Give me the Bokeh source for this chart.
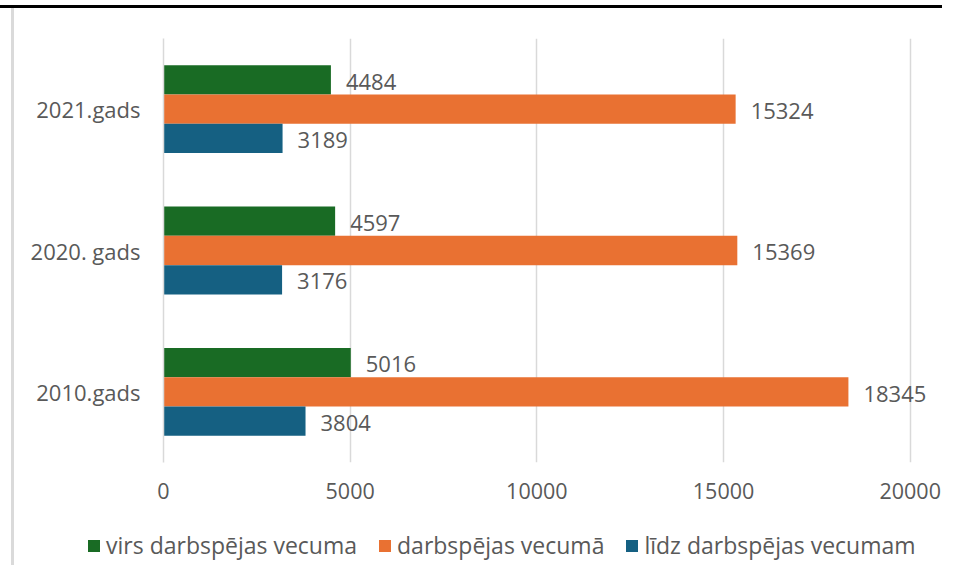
from bokeh.plotting import figure
from bokeh.layouts import column
from bokeh.models import ColumnDataSource, FactorRange, Range1d, FixedTicker, Legend, LegendItem
from bokeh.transform import dodge
from bokeh.core.properties import value
from bokeh.embed import file_html
from bokeh.resources import INLINE

# ---- data ----
categories = ["2010.gads", "2020. gads", "2021.gads"]
virs = [5016, 4597, 4484]          # virs darbspējas vecuma
darbs = [18345, 15369, 15324]      # darbspējas vecumā
lidz = [3804, 3176, 3189]          # līdz darbspējas vecumam
series_names = ["virs darbspējas vecuma", "darbspējas vecumā", "līdz darbspējas vecumam"]
x_ticks = [0, 5000, 10000, 15000, 20000]

colors = ["#196B24", "#E97132", "#156082"]
TEXT = "#595959"
GRID = "#D9D9D9"
FONT = "Open Sans"
EDGE = "#DADADA"

source = ColumnDataSource(data=dict(cat=categories, virs=virs, darbs=darbs, lidz=lidz))

p = figure(
    width=942, height=515,
    y_range=FactorRange(factors=categories, range_padding=0),
    x_range=Range1d(0, 20704),
    output_backend="svg", toolbar_location=None,
    min_border_left=163, min_border_right=6, min_border_top=38, min_border_bottom=53,
    styles={"background": f"linear-gradient(#000, #000) 0 5px / 100% 3px no-repeat, "
                          f"linear-gradient({EDGE}, {EDGE}) 11px 8px / 3px 100% no-repeat"},
)
p.frame_align = False
p.border_fill_alpha = 0
p.background_fill_color = "white"
p.outline_line_color = None

h = 0.207
fields = ["virs", "darbs", "lidz"]
offsets = [h, 0.0, -h]
renderers = []
for f, off, c in zip(fields, offsets, colors):
    r = p.hbar(y=dodge("cat", off, range=p.y_range), left=0, right=f, height=h,
               source=source, fill_color=c, line_color=None)
    renderers.append(r)
    p.text(x=f, y=dodge("cat", off - 0.012, range=p.y_range), text=f, source=source,
           x_offset=15, text_align="left", text_baseline="middle",
           text_font=value(FONT), text_font_size="22px", text_color=TEXT)

# axes
p.xaxis.ticker = FixedTicker(ticks=x_ticks)
p.xaxis.axis_line_color = None
p.xaxis.major_tick_line_color = None
p.xaxis.minor_tick_line_color = None
p.xaxis.major_label_standoff = 14
p.xaxis.major_label_text_font = FONT
p.xaxis.major_label_text_font_size = "21.5px"
p.xaxis.major_label_text_color = TEXT

p.yaxis.axis_line_color = GRID
p.yaxis.axis_line_width = 1.5
p.yaxis.major_tick_line_color = None
p.yaxis.minor_tick_line_color = None
p.yaxis.major_label_standoff = 17
p.yaxis.major_label_text_font = FONT
p.yaxis.major_label_text_font_size = "22px"
p.yaxis.major_label_text_color = TEXT

p.xgrid.grid_line_color = GRID
p.xgrid.grid_line_width = 1.5
p.ygrid.grid_line_color = None

# ---- legend strip below the chart ----
lg = figure(
    width=942, height=50,
    x_range=Range1d(0, 942), y_range=Range1d(0, 50),
    output_backend="svg", toolbar_location=None,
    x_axis_location=None, y_axis_location=None,
    min_border_left=0, min_border_right=0, min_border_top=0, min_border_bottom=0,
    styles={"background": f"linear-gradient({EDGE}, {EDGE}) 11px 0 / 3px 100% no-repeat"},
)
lg.frame_align = False
lg.border_fill_alpha = 0
lg.background_fill_alpha = 0
lg.outline_line_color = None
lg.xgrid.visible = False
lg.ygrid.visible = False

# legend swatches: renderers placed outside the visible range of the strip
dummy = [lg.hbar(y=[-100], left=[0], right=[1], height=1, fill_color=c, line_color=None)
         for c in colors]

legend = Legend(
    items=[LegendItem(label=n, renderers=[r]) for n, r in zip(series_names, dummy)],
    orientation="horizontal", location=(86, 4),
    glyph_width=15, glyph_height=15, label_standoff=5, spacing=20,
    padding=0, margin=0, border_line_color=None, background_fill_alpha=0,
    label_text_font=FONT, label_text_font_size="23px", label_text_color=TEXT,
)
lg.add_layout(legend, "center")

layout = column(p, lg, spacing=0)
open("out.html", "w").write(file_html(layout, INLINE))
